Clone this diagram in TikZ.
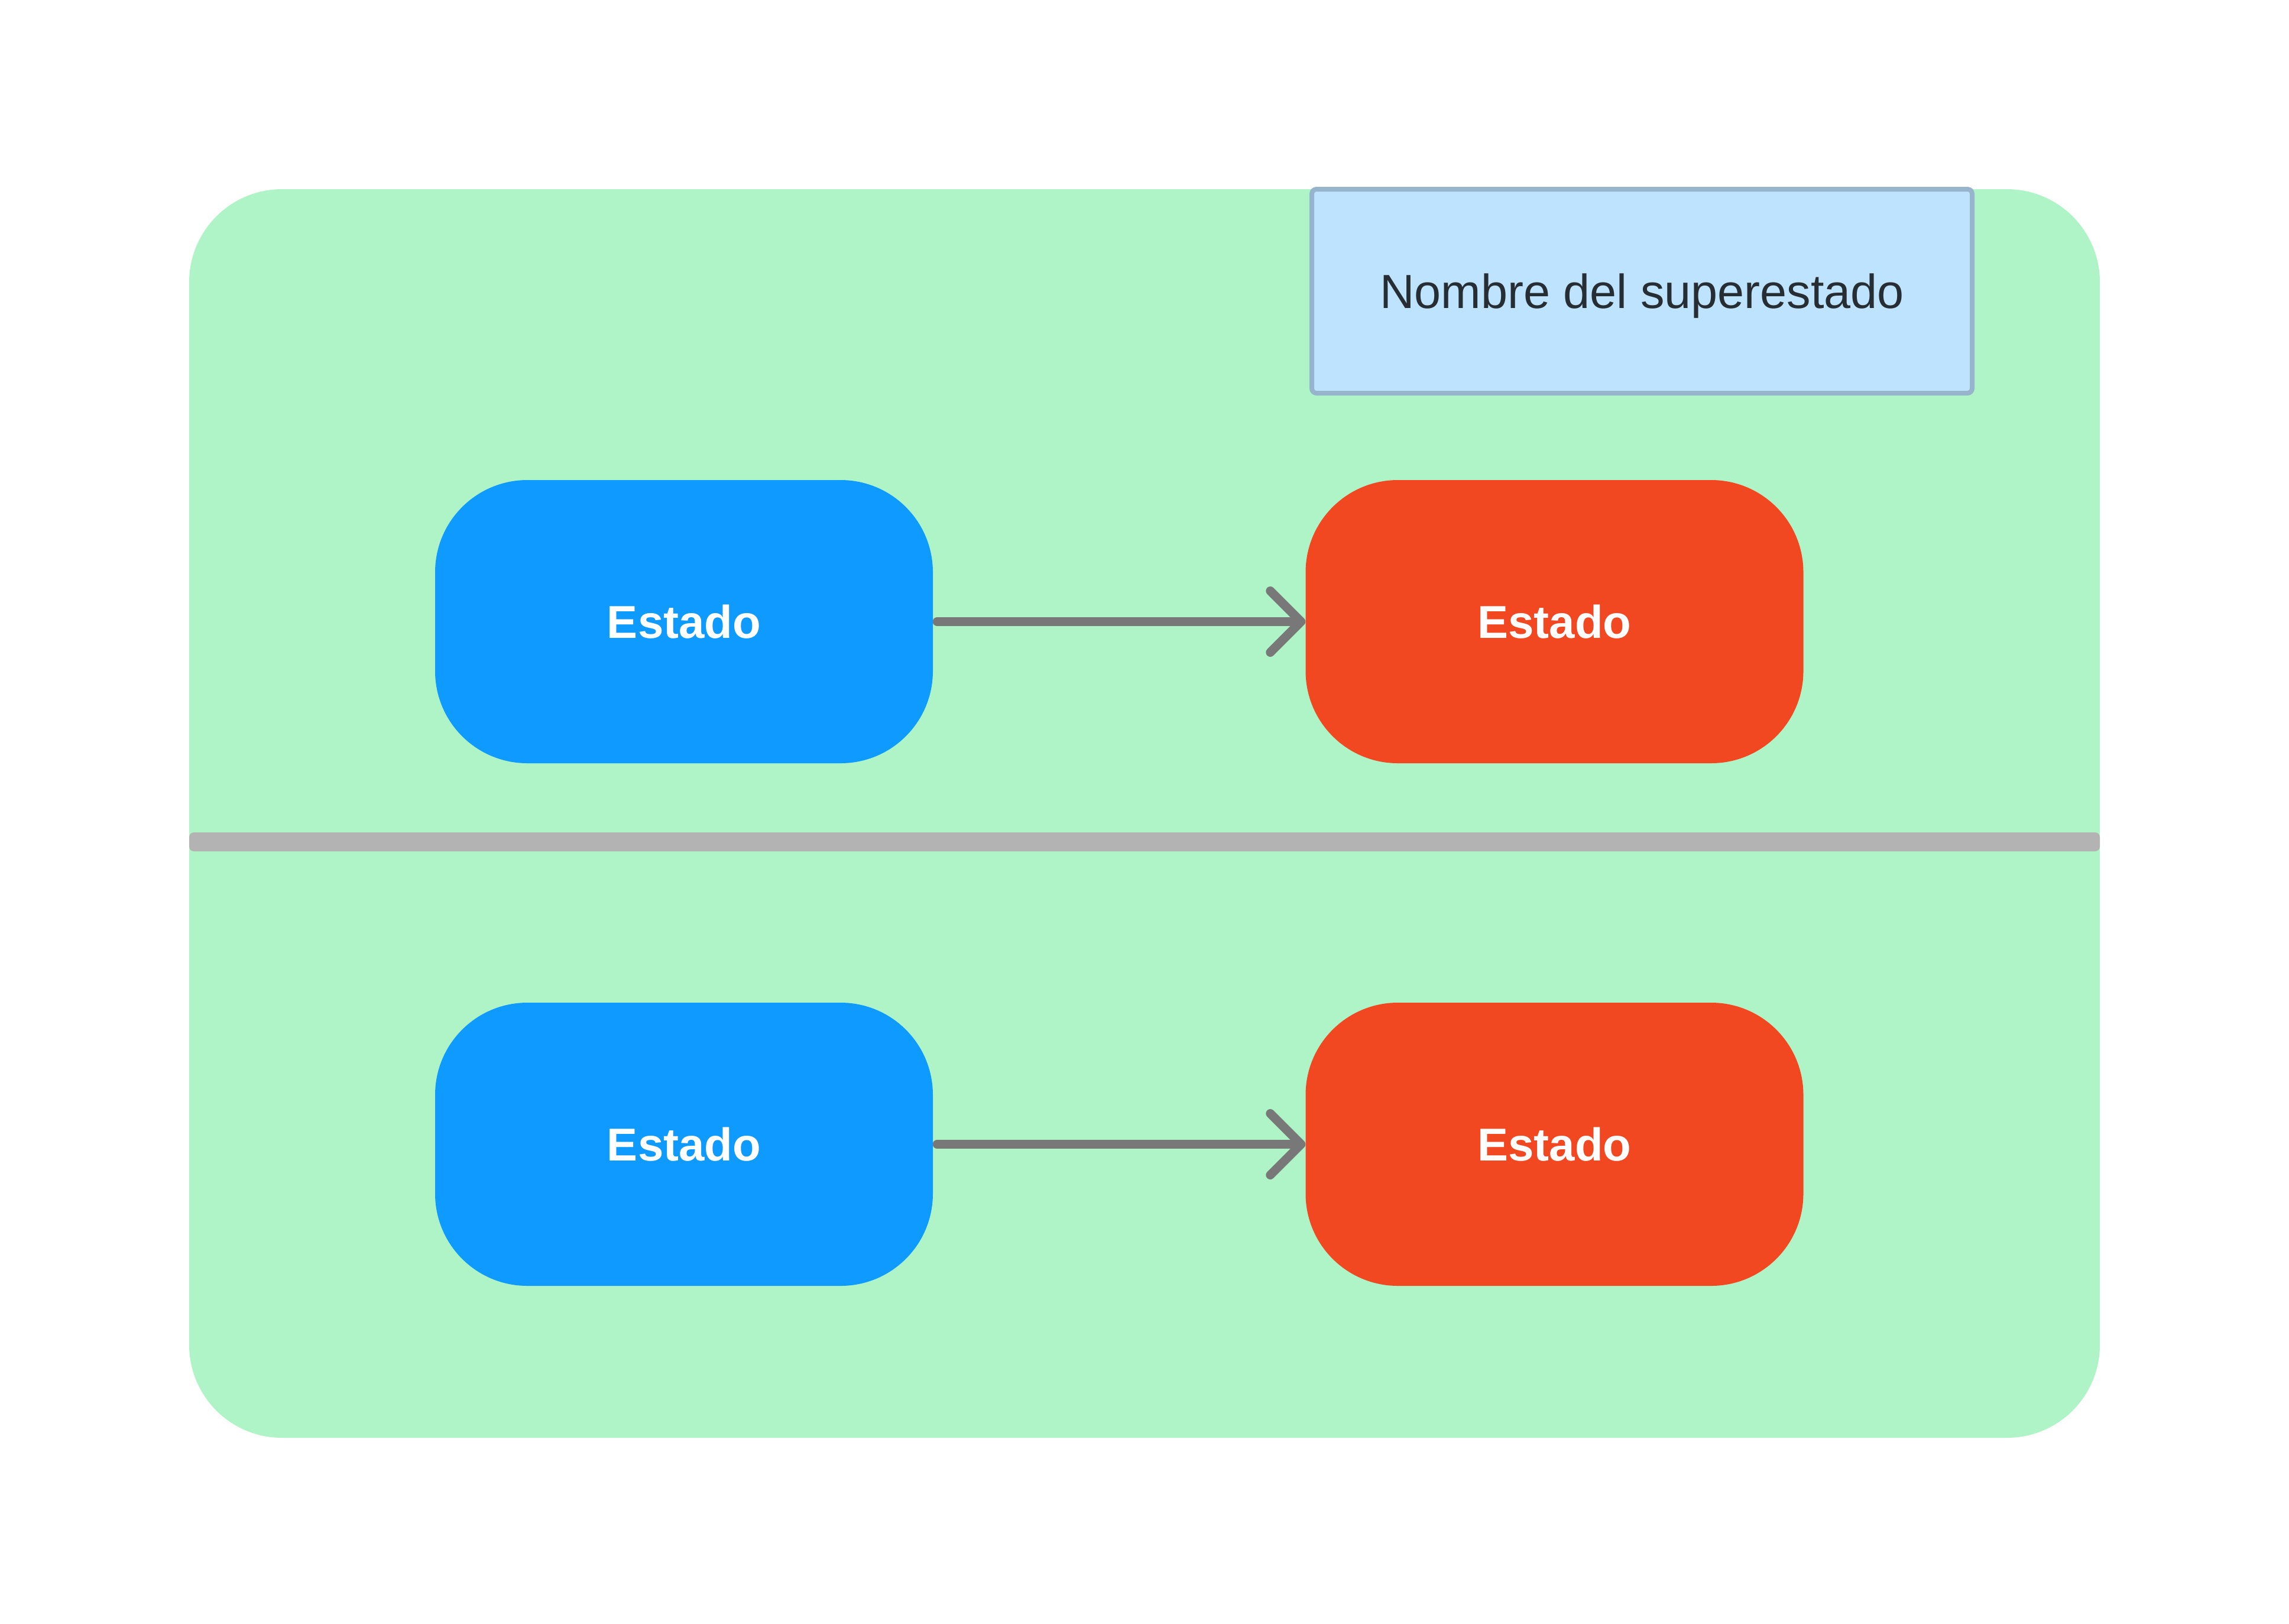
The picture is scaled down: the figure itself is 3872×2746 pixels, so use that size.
\documentclass[tikz,border=0pt]{standalone}
\usepackage{fontspec}
\setmainfont{Liberation Sans}
\usetikzlibrary{arrows.meta}
\definecolor{supergreen}{HTML}{AFF4C6}
\definecolor{stateblue}{HTML}{0F9AFF}
\definecolor{statered}{HTML}{F24822}
\definecolor{arrowgrey}{HTML}{787878}
\definecolor{dividergrey}{HTML}{B3B3B3}
\definecolor{titlefill}{HTML}{BDE3FE}
\definecolor{titleborder}{HTML}{96B4CC}
\definecolor{titletext}{HTML}{272E33}
\tikzset{
  superbox/.style={fill=supergreen, rounded corners=157pt, inner sep=0pt,
    minimum width=3232pt, minimum height=2112pt},
  dividerbar/.style={fill=dividergrey, rounded corners=8pt, inner sep=0pt,
    minimum width=3232pt, minimum height=32pt},
  titlebox/.style={draw=titleborder, line width=8pt, fill=titlefill,
    rounded corners=8pt, inner sep=0pt, minimum width=1117pt, minimum height=345pt,
    text=titletext, text depth=0pt, font=\fontsize{81}{97}\selectfont},
  statebox/.style={rounded corners=156pt, inner sep=0pt, minimum width=842pt,
    minimum height=479pt, text=white, text depth=0pt,
    font=\bfseries\fontsize{78}{94}\selectfont},
  bluestate/.style={statebox, fill=stateblue},
  redstate/.style={statebox, fill=statered},
  transition/.style={draw=arrowgrey, line width=15pt, line cap=round, line join=round,
    shorten <=7pt,
    -{Straight Barb[length=52pt, width=104pt, line cap=round, line join=round]}}
}
\begin{document}
\begin{tikzpicture}[x=1pt, y=-1pt]
  \path[use as bounding box] (0,0) rectangle (3872,2746);
  \node[superbox] (super) at (1936,1376) {};
  \node[dividerbar] (divider) at (1936,1424) {};
  \node[titlebox] (title) at (2777.5,492.5) {Nombre del superestado};
  \node[bluestate] (b1) at (1157,1051.5) {Estado};
  \node[redstate] (r1) at (2629.5,1051.5) {Estado};
  \node[bluestate] (b2) at (1157,1935.5) {Estado};
  \node[redstate] (r2) at (2629.5,1935.5) {Estado};
  \draw[transition] (b1.east) -- (r1.west);
  \draw[transition] (b2.east) -- (r2.west);
\end{tikzpicture}
\end{document}
